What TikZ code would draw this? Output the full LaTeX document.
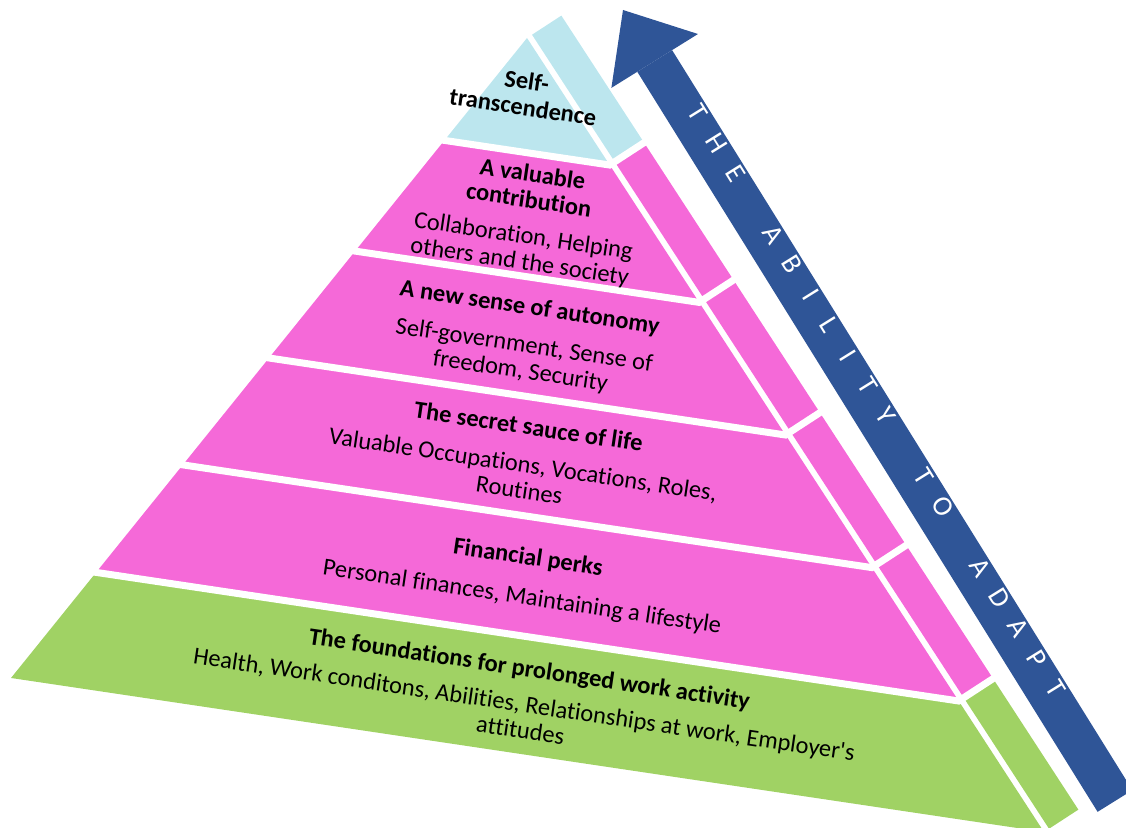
\documentclass[tikz,border=0pt]{standalone}
\usepackage{fontspec}
\setmainfont{Carlito}[Ligatures={TeX,NoCommon}]
\usetikzlibrary{calc,arrows.meta}

\definecolor{capblue}{HTML}{BCE6EE}
\definecolor{levelpink}{HTML}{F569D8}
\definecolor{basegreen}{HTML}{A0D264}
\definecolor{adaptblue}{HTML}{2F5597}

\begin{document}
\begin{tikzpicture}[x=0.5pt,y=-0.5pt]
    \tikzstyle{gap}=[white,line width=3.5pt]
    \tikzstyle{level}=[rotate=-8.4,align=center,inner sep=0pt,font=\fontsize{12.2}{13}\selectfont]
    \tikzstyle{adapt}=[adaptblue,line width=20.5pt,-{Triangle[length=30pt,width=51pt,line width=0pt]}]
    \tikzstyle{letter}=[white,sloped,anchor=base,inner sep=0pt,font=\fontsize{14}{14}\selectfont]

    \useasboundingbox (0,0) rectangle (1126,828);
    \clip (0,0) rectangle (1126,828);

    \coordinate (apex)  at (527,38);
    \coordinate (left)  at (11,678);
    \coordinate (right) at (1044,832);
    % side strip, pushed off the right edge
    \coordinate (inA)  at ($(apex)!3pt!90:(right)$);
    \coordinate (inB)  at ($(right)!3pt!-90:(apex)$);
    \coordinate (outA) at ($(apex)!20.5pt!90:(right)$);
    \coordinate (outB) at ($(right)!20.5pt!-90:(apex)$);

    % levels, top to bottom
    \foreach \lo/\hi/\col in {0/0.16/capblue,0.16/0.333/levelpink,0.333/0.5/levelpink,
                              0.5/0.667/levelpink,0.667/0.835/levelpink,0.835/1/basegreen} {
        \fill[\col] ($(apex)!\lo!(left)$) -- ($(apex)!\hi!(left)$) -- ($(apex)!\hi!(right)$) -- ($(apex)!\lo!(right)$) -- cycle;
        \fill[\col] ($(inA)!\lo!(inB)$) -- ($(inA)!\hi!(inB)$) -- ($(outA)!\hi!(outB)$) -- ($(outA)!\lo!(outB)$) -- cycle;
    }
    % white gaps between the levels
    \foreach \t in {0.16,0.333,0.5,0.667,0.835}
        \draw[gap,shorten <=-6pt,shorten >=-1pt] ($(apex)!\t!(left)$) -- ($(apex)!\t!(right)$) -- ($(outA)!\t!(outB)$);

    % the arrow up the right side
    \coordinate (tail) at (1115,801);
    \coordinate (tip)  at (623,10);
    \draw[adapt] (tail) -- (tip);
    \foreach \ch [count=\i] in {T,H,E,{},A,B,I,L,I,T,Y,{},T,O,{},A,D,A,P,T}
        \path (tip) -- (tail) node (l\i) [letter,pos={(127+(\i-1)*35.7)/932}] {\ch};

    \node (self) [level] at (525,94) {\textbf{Self-}\\\textbf{transcendence}};
    \node (contrib) [level] at (526,219) {\textbf{A valuable}\\\textbf{contribution}\\[5pt]Collaboration, Helping\\others and the society};
    \node (autonomy) [level] at (525,340) {\textbf{A new sense of autonomy}\\[6pt]Self-government, Sense of\\freedom, Security};
    \node (sauce) [level] at (524,458) {\textbf{The secret sauce of life}\\[6pt]Valuable Occupations, Vocations, Roles,\\Routines};
    \node (perks) [level] at (525,578) {\textbf{Financial perks}\\[7pt]Personal finances, Maintaining a lifestyle};
    \node (base) [level] at (525,699) {\textbf{The foundations for prolonged work activity}\\[5pt]Health, Work conditons, Abilities, Relationships at work, Employer\textquotesingle s\\attitudes};
\end{tikzpicture}
\end{document}
